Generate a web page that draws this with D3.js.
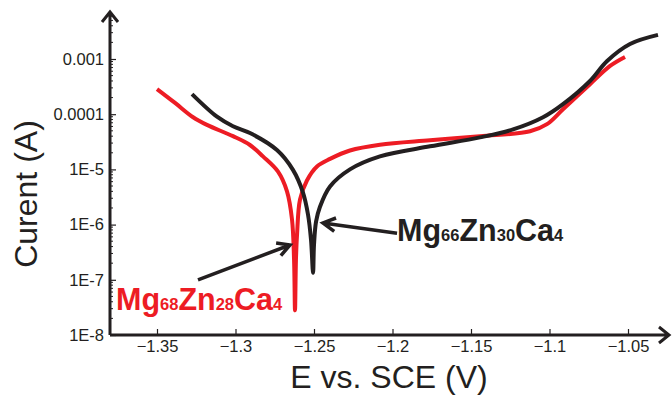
<!DOCTYPE html>
<html>
<head>
<meta charset="utf-8">
<script src="https://cdn.jsdelivr.net/npm/d3@7"></script>
<style>
  html, body { margin: 0; padding: 0; background: #fff; }
  svg { display: block; }
  svg text { font-family: "Liberation Sans", Arial, sans-serif; }
</style>
</head>
<body>
<div class="chart-container"></div>
<script>
// Polarization curves (E vs SCE, current in A)
const redE = [-1.350, -1.3385, -1.327, -1.3182, -1.3016, -1.2908, -1.2825, -1.2729, -1.2672, -1.264,
  -1.2627, -1.2621, -1.2615, -1.2608, -1.2589, -1.2545, -1.2481, -1.2398, -1.2271, -1.208,
  -1.1761, -1.1443, -1.1124, -1.1016, -1.0914, -1.0742, -1.0614, -1.0519];
const redI = [2.85e-4, 1.6e-4, 8.8e-5, 6.4e-5, 4.0e-5, 2.77e-5, 1.72e-5, 9.1e-6, 4.0e-6, 1.23e-6,
  2.3e-7, 2.8e-8, 2.3e-7, 6.6e-7, 2.85e-6, 6.3e-6, 1.13e-5, 1.55e-5, 2.2e-5, 2.8e-5,
  3.37e-5, 4.0e-5, 4.9e-5, 6.6e-5, 1.23e-4, 3.5e-4, 7.5e-4, 1.09e-3];

const blackE = [-1.3277, -1.3118, -1.3016, -1.2908, -1.2736, -1.2634, -1.257, -1.2538,
  -1.2519, -1.2506, -1.25, -1.2487, -1.2462, -1.2398, -1.2271, -1.208, -1.1761, -1.1443,
  -1.1232, -1.1041, -1.0914, -1.0742, -1.0633, -1.0487, -1.0309];
const blackI = [2.31e-4, 9.0e-5, 6.05e-5, 4.56e-5, 2.24e-5, 9.8e-6, 3.8e-6, 1.51e-6,
  5.3e-7, 1.34e-7, 4.3e-7, 1.13e-6, 2.1e-6, 4.9e-6, 1.0e-5, 1.72e-5, 2.62e-5, 3.8e-5,
  5.3e-5, 8.8e-5, 1.52e-4, 4.0e-4, 9.2e-4, 1.87e-3, 2.73e-3];

const xTicks = [-1.35, -1.3, -1.25, -1.2, -1.15, -1.1, -1.05];
const yTicks = [1e-8, 1e-7, 1e-6, 1e-5, 1e-4, 1e-3];
const yTickLabels = ['1E-8', '1E-7', '1E-6', '1E-5', '0.0001', '0.001'];

const width = 672, height = 397;

const x = d3.scaleLinear().domain([-1.35, -1.05]).range([157, 628]);
const y = d3.scaleLog().domain([1e-8, 1e-3]).range([335, 59]);

const svg = d3.select('.chart-container')
  .append('svg')
  .attr('width', width)
  .attr('height', height)
  .attr('font-family', '"Liberation Sans", Arial, sans-serif');

// axes lines with arrow heads
const x0 = 110, yBase = 335;
svg.append('path')
  .attr('d', `M${x0},${yBase}V12M${x0 - 8},22L${x0},12L${x0 + 8},22`)
  .attr('fill', 'none').attr('stroke', '#231f20').attr('stroke-width', 3);
svg.append('path')
  .attr('d', `M${x0},${yBase}H669M659,${yBase - 8}L669,${yBase}L659,${yBase + 8}`)
  .attr('fill', 'none').attr('stroke', '#231f20').attr('stroke-width', 3);

// x ticks (inside, pointing up)
const xAxis = d3.axisBottom(x).tickValues(xTicks).tickSize(-6).tickPadding(5)
  .tickFormat(d => d3.format('')(+d.toFixed(2)));
const gx = svg.append('g').attr('transform', `translate(0,${yBase})`).call(xAxis);
gx.select('.domain').remove();
gx.attr('font-family', null);
gx.selectAll('line').attr('stroke', '#231f20').attr('stroke-width', 1.2);
gx.selectAll('text').attr('font-size', '16.5px').attr('fill', '#231f20');

// y ticks (inside, pointing right) with minor log ticks
const minor = [];
for (let e = -8; e < -2; e++) for (let m = 2; m <= 9; m++) minor.push(m * Math.pow(10, e));
svg.append('g').selectAll('line').data(minor.filter(v => y(v) > 14)).join('line')
  .attr('x1', x0).attr('x2', x0 + 3)
  .attr('y1', d => y(d)).attr('y2', d => y(d))
  .attr('stroke', '#231f20').attr('stroke-width', 1);

const yAxis = d3.axisLeft(y).tickValues(yTicks).tickSize(-6).tickPadding(6)
  .tickFormat((d, i) => yTickLabels[i]);
const gy = svg.append('g').attr('transform', `translate(${x0},0)`).call(yAxis);
gy.select('.domain').remove();
gy.attr('font-family', null);
gy.selectAll('line').attr('stroke', '#231f20').attr('stroke-width', 1.2);
gy.selectAll('text').attr('font-size', '16.5px').attr('fill', '#231f20');

// axis titles
svg.append('text')
  .attr('x', 389).attr('y', 388)
  .attr('text-anchor', 'middle')
  .attr('font-size', '32px').attr('fill', '#231f20')
  .text('E vs. SCE (V)');
svg.append('text')
  .attr('transform', 'translate(37,194) rotate(-90)')
  .attr('text-anchor', 'middle')
  .attr('font-size', '32px').attr('fill', '#231f20')
  .text('Curent (A)');

// curves
const line = d3.line()
  .x(d => x(d[0]))
  .y(d => y(d[1]))
  .curve(d3.curveCatmullRom.alpha(0.5));

svg.append('path')
  .datum(redE.map((e, i) => [e, redI[i]]))
  .attr('d', line)
  .attr('fill', 'none').attr('stroke', '#ed1c24').attr('stroke-width', 4);

svg.append('path')
  .datum(blackE.map((e, i) => [e, blackI[i]]))
  .attr('d', line)
  .attr('fill', 'none').attr('stroke', '#231f20').attr('stroke-width', 4);

// annotation arrows
function arrow(from, to) {
  const x1 = x(from[0]), y1 = y(from[1]), x2 = x(to[0]), y2 = y(to[1]);
  const a = Math.atan2(y2 - y1, x2 - x1), L = 14, s = 0.5;
  const p1 = [x2 - L * Math.cos(a - s), y2 - L * Math.sin(a - s)];
  const p2 = [x2 - L * Math.cos(a + s), y2 - L * Math.sin(a + s)];
  svg.append('path')
    .attr('d', `M${x1},${y1}L${x2},${y2}M${p1}L${x2},${y2}L${p2}`)
    .attr('fill', 'none').attr('stroke', '#231f20').attr('stroke-width', 3.5)
    .attr('stroke-linejoin', 'miter');
}
arrow([-1.1971, 7.0e-7], [-1.2443, 1.07e-6]);
arrow([-1.3239, 1.0e-7], [-1.2653, 4.27e-7]);

// labels
function label(e, i, parts, color) {
  const t = svg.append('text')
    .attr('x', x(e)).attr('y', y(i))
    .attr('fill', color).attr('font-weight', 'bold');
  parts.forEach(([s, sub]) => {
    t.append('tspan').attr('font-size', sub ? '16.5px' : '30.5px').text(s);
  });
}
label(-1.1971, 5.0e-7, [['Mg'], ['66', 1], ['Zn'], ['30', 1], ['Ca'], ['4', 1]], '#231f20');
label(-1.3761, 2.8e-8, [['Mg'], ['68', 1], ['Zn'], ['28', 1], ['Ca'], ['4', 1]], '#ed1c24');
</script>
</body>
</html>
